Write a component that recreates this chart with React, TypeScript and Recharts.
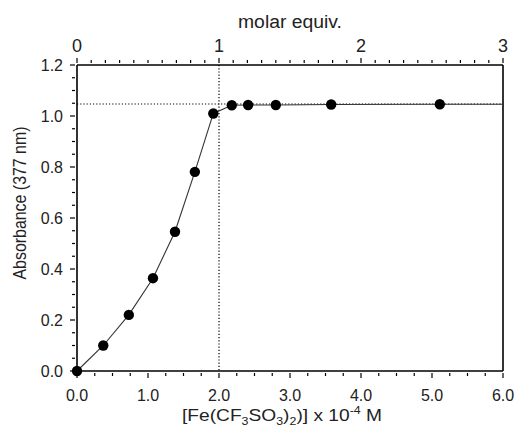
import React from 'react';
import {
    ComposedChart,
    Line,
    Scatter,
    XAxis,
    YAxis,
    ReferenceLine,
} from 'recharts';

// [Fe(CF3SO3)2] in 10^-4 M and absorbance at 377 nm
const concentration = [0.0, 0.37, 0.73, 1.07, 1.38, 1.66, 1.92, 2.18, 2.41, 2.8, 3.58, 5.11];
const absorbance = [0.0, 0.1, 0.22, 0.364, 0.546, 0.781, 1.01, 1.042, 1.043, 1.043, 1.045, 1.046];

// the fitted curve runs on to the end of the axis
const fitEndX = 6.0;
const fitEndY = 1.046;

// 1 molar equiv. = 2.0 x 10^-4 M
const equivPerUnit = 0.5;

// dotted guide lines
const plateau = 1.047;
const equivalence = 1;

const FONT = '"Liberation Sans", Arial, sans-serif';

const steps = (max: number, step: number) =>
    Array.from({ length: Math.round(max / step) + 1 }, (_, i) => +(i * step).toFixed(4));

const bottomTicks = steps(6, 0.25);
const topTicks = steps(3, 0.1);
const leftTicks = steps(1.2, 0.05);

const points = concentration.map((x, i) => ({ x, y: absorbance[i] }));
const fit = [...points, { x: fitEndX, y: fitEndY }];
const fitEquiv = fit.map((p) => ({ x: p.x * equivPerUnit, y: p.y }));

const isMultiple = (v: number, m: number) => Math.abs(v / m - Math.round(v / m)) < 1e-6;

const AxisTick = (props: any) => {
    const { x, y, payload, side } = props;
    const v = payload.value as number;
    if (side === 'left') {
        const major = isMultiple(v, 0.2);
        const len = major ? 5 : 3;
        return (
            <g>
                <line x1={x} y1={y} x2={x - len} y2={y} stroke="#000" strokeWidth={1.2} />
                {major && (
                    <text x={x - 12} y={y + 5.6} textAnchor="end" fontSize={16} fill="#222">
                        {v.toFixed(1)}
                    </text>
                )}
            </g>
        );
    }
    const major = isMultiple(v, 1);
    const len = major ? 5 : 3;
    if (side === 'top') {
        return (
            <g>
                <line x1={x} y1={y} x2={x} y2={y - len} stroke="#000" strokeWidth={1.2} />
                {major && (
                    <text x={x} y={y - 11.5} textAnchor="middle" fontSize={18} fill="#222">
                        {v.toFixed(0)}
                    </text>
                )}
            </g>
        );
    }
    return (
        <g>
            <line x1={x} y1={y} x2={x} y2={y + len} stroke="#000" strokeWidth={1.2} />
            {major && (
                <text x={x} y={y + 27.5} textAnchor="middle" fontSize={16} fill="#222">
                    {v.toFixed(1)}
                </text>
            )}
        </g>
    );
};

const BottomTitle = (props: any) => {
    const vb = props.viewBox;
    const cx = vb.x + vb.width / 2 - 8;
    return (
        <text
            x={cx}
            y={421}
            textAnchor="middle"
            fontSize={17}
            fill="#222"
            textLength={200}
            lengthAdjust="spacingAndGlyphs"
        >
            [Fe(CF
            <tspan dy={4} fontSize={11}>3</tspan>
            <tspan dy={-4}>SO</tspan>
            <tspan dy={4} fontSize={11}>3</tspan>
            <tspan dy={-4}>)</tspan>
            <tspan dy={4} fontSize={11}>2</tspan>
            <tspan dy={-4}>)] x 10</tspan>
            <tspan dy={-7} fontSize={11}>-4</tspan>
            <tspan dy={7}> M</tspan>
        </text>
    );
};

const TopTitle = (props: any) => {
    const vb = props.viewBox;
    return (
        <text
            x={vb.x + vb.width / 2}
            y={28}
            textAnchor="middle"
            fontSize={18}
            fill="#222"
            textLength={104}
            lengthAdjust="spacingAndGlyphs"
        >
            molar equiv.
        </text>
    );
};

const LeftTitle = () => (
    <text
        x={26}
        y={203}
        transform="rotate(-90 26 203)"
        textAnchor="middle"
        fontSize={18}
        fill="#222"
        textLength={153}
        lengthAdjust="spacingAndGlyphs"
    >
        Absorbance (377 nm)
    </text>
);

export default function App() {
    return (
        <div style={{ position: 'absolute', left: 0, top: 0, background: '#fff' }}>
            <ComposedChart
                width={517}
                height={427}
                margin={{ top: 0, right: 14, bottom: 0, left: 0 }}
                style={{ fontFamily: FONT }}
            >
                <XAxis
                    xAxisId="bottom"
                    dataKey="x"
                    type="number"
                    orientation="bottom"
                    domain={[0, 6]}
                    ticks={bottomTicks}
                    interval={0}
                    height={56}
                    tickSize={0}
                    tickLine={false}
                    axisLine={{ stroke: '#000', strokeWidth: 1.6 }}
                    tick={(p: any) => <AxisTick {...p} side="bottom" />}
                    label={BottomTitle}
                />
                <XAxis
                    xAxisId="top"
                    dataKey="x"
                    type="number"
                    orientation="top"
                    domain={[0, 3]}
                    ticks={topTicks}
                    interval={0}
                    height={65}
                    tickSize={0}
                    tickLine={false}
                    axisLine={{ stroke: '#000', strokeWidth: 1.6 }}
                    tick={(p: any) => <AxisTick {...p} side="top" />}
                    label={TopTitle}
                />
                <YAxis
                    dataKey="y"
                    type="number"
                    domain={[0, 1.2]}
                    ticks={leftTicks}
                    interval={0}
                    width={77}
                    tickSize={0}
                    tickLine={false}
                    axisLine={{ stroke: '#000', strokeWidth: 1.6 }}
                    tick={(p: any) => <AxisTick {...p} side="left" />}
                    label={LeftTitle}
                />
                <ReferenceLine
                    xAxisId="top"
                    x={3}
                    stroke="#000"
                    strokeWidth={1.6}
                />
                <ReferenceLine
                    xAxisId="bottom"
                    y={plateau}
                    stroke="#000"
                    strokeWidth={1.2}
                    strokeDasharray="1.2 2"
                />
                <ReferenceLine
                    xAxisId="top"
                    x={equivalence}
                    stroke="#000"
                    strokeWidth={1.2}
                    strokeDasharray="1.2 2"
                />
                {/* same curve on the equivalents axis, invisible, so that axis gets a series */}
                <Line
                    xAxisId="top"
                    data={fitEquiv}
                    dataKey="y"
                    type="linear"
                    stroke="none"
                    dot={false}
                    activeDot={false}
                    isAnimationActive={false}
                />
                <Line
                    xAxisId="bottom"
                    data={fit}
                    dataKey="y"
                    type="linear"
                    stroke="#333"
                    strokeWidth={1.1}
                    dot={false}
                    activeDot={false}
                    isAnimationActive={false}
                />
                <Scatter
                    xAxisId="bottom"
                    data={points}
                    dataKey="y"
                    fill="#000"
                    shape={(p: any) => <circle cx={p.cx} cy={p.cy} r={5.2} fill="#000" />}
                    isAnimationActive={false}
                />
            </ComposedChart>
        </div>
    );
}
